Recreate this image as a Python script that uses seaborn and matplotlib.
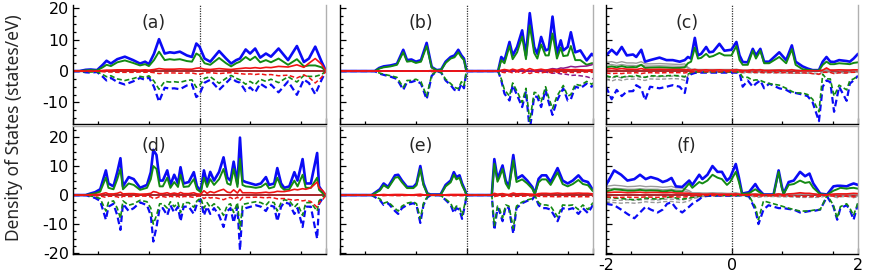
import matplotlib
matplotlib.use("Agg")
import matplotlib.pyplot as plt
from matplotlib.ticker import MultipleLocator, FixedLocator, NullFormatter
import seaborn as sns

sns.set_style("ticks")
plt.rcParams['font.family'] = ['DejaVu Sans']
plt.rcParams['axes.unicode_minus'] = False

# ---------------- panel (a) ----------------
a_E = [-2.0, -1.9, -1.8, -1.72, -1.62, -1.53, -1.47, -1.4, -1.3, -1.18,
       -1.05, -0.94, -0.86, -0.8, -0.72, -0.64, -0.55, -0.47, -0.4, -0.31,
       -0.2, -0.12, -0.05, 0.0, 0.08, 0.17, 0.31, 0.42, 0.5, 0.58,
       0.64, 0.73, 0.8, 0.88, 0.96, 1.05, 1.13, 1.25, 1.4, 1.54,
       1.65, 1.73, 1.83, 1.93, 2.0]
a_blue_up = [0, 0, 0.4, 0.5, 0.3, 2.0, 3.3, 2.4, 3.8, 4.6,
             3.5, 2.4, 3.0, 2.2, 5.5, 10.2, 5.6, 6.0, 5.8, 6.2,
             5.0, 4.5, 8.8, 7.8, 4.0, 3.0, 6.4, 4.0, 2.4, 3.5,
             4.0, 6.9, 5.6, 7.2, 4.3, 5.6, 4.6, 7.2, 3.5, 8.0,
             2.9, 4.0, 7.8, 3.0, 0]
a_green_up = [0, 0, 0.2, 0.3, 0.2, 1.2, 2.0, 1.6, 2.8, 3.4,
              2.6, 1.8, 2.2, 1.6, 3.5, 6.2, 3.5, 3.8, 3.6, 3.8,
              3.2, 3.0, 5.6, 5.0, 2.5, 2.0, 4.2, 2.5, 1.5, 2.5,
              3.0, 4.5, 3.5, 4.6, 2.8, 3.5, 2.8, 4.0, 2.0, 3.8,
              1.5, 1.8, 1.8, 1.2, 0]
a_red_up = [0, 0, 0, 0, 0, 0.2, 0.3, 0.3, 0.4, 0.4,
            0.4, 0.3, 0.4, 0.3, 0.5, 0.8, 0.6, 0.6, 0.6, 0.7,
            0.6, 0.6, 0.9, 1.0, 0.6, 0.5, 0.8, 0.6, 0.5, 0.7,
            0.8, 1.0, 0.9, 1.1, 0.9, 1.2, 1.1, 1.5, 1.3, 2.0,
            1.2, 2.5, 4.0, 2.2, 0]
a_blue_dn = [0, 0, -0.4, -0.5, -0.3, -1.8, -3.0, -2.2, -3.5, -4.3,
             -3.3, -2.2, -2.8, -2.0, -5.0, -9.8, -5.3, -5.6, -5.5, -5.8,
             -4.6, -4.2, -8.3, -7.4, -3.7, -2.8, -6.0, -3.8, -2.2, -3.3,
             -3.7, -6.4, -5.2, -6.8, -4.0, -5.2, -4.3, -6.8, -3.3, -7.6,
             -2.7, -3.8, -7.4, -2.8, 0]
a_green_dn = [0, 0, -0.2, -0.3, -0.2, -1.1, -1.8, -1.5, -2.5, -3.0,
              -2.4, -1.7, -2.0, -1.5, -3.2, -5.8, -3.3, -3.5, -3.4, -3.6,
              -3.0, -2.8, -5.2, -4.6, -2.3, -1.8, -3.9, -2.3, -1.4, -2.3,
              -2.8, -4.2, -3.3, -4.3, -2.6, -3.3, -2.6, -3.7, -1.8, -3.5,
              -1.4, -1.7, -1.7, -1.1, 0]
a_red_dn = [0, 0, 0, 0, 0, -0.2, -0.3, -0.3, -0.4, -0.4,
            -0.4, -0.3, -0.4, -0.3, -0.5, -0.8, -0.6, -0.6, -0.6, -0.7,
            -0.6, -0.6, -0.9, -1.0, -0.6, -0.5, -0.8, -0.6, -0.5, -0.7,
            -0.8, -1.0, -0.9, -1.1, -0.9, -1.2, -1.1, -1.5, -1.3, -2.2,
            -1.2, -2.0, -3.8, -2.0, 0]

# ---------------- panel (b) ----------------
b_E = [-2.0, -1.45, -1.38, -1.31, -1.2, -1.1, -1.0, -0.94, -0.87, -0.8,
       -0.72, -0.63, -0.55, -0.47, -0.4, -0.33, -0.25, -0.19, -0.13, -0.08,
       -0.04, 0.0, 0.5, 0.55, 0.6, 0.68, 0.73, 0.8, 0.88, 0.94,
       1.0, 1.07, 1.12, 1.18, 1.25, 1.3, 1.36, 1.43, 1.49, 1.53,
       1.6, 1.65, 1.72, 1.8, 1.9, 1.98, 2.0]
b_blue_up = [0, 0, 1.0, 1.5, 1.8, 2.3, 6.8, 3.5, 3.7, 3.0,
             3.5, 9.0, 1.3, 0.3, 0.5, 3.0, 4.5, 5.0, 6.8, 5.0,
             4.0, 0, 0, 4.5, 3.4, 9.3, 5.0, 7.7, 13.0, 5.0,
             18.5, 7.7, 5.5, 10.9, 6.6, 7.0, 17.4, 5.5, 9.8, 6.6,
             7.7, 12.4, 6.0, 6.6, 3.4, 5.5, 5.0]
b_green_up = [0, 0, 0.8, 1.2, 1.5, 2.0, 6.0, 3.0, 3.2, 2.6,
              3.0, 8.0, 1.1, 0.2, 0.4, 2.6, 4.0, 4.4, 6.0, 4.4,
              3.5, 0, 0, 3.5, 2.5, 8.0, 3.8, 6.0, 11.0, 3.8,
              14.6, 5.8, 4.0, 8.5, 5.0, 5.0, 12.0, 4.0, 7.5, 4.8,
              5.0, 8.0, 3.5, 3.5, 2.0, 2.5, 2.5]
b_red_up = [0, 0, 0, 0, 0, 0, 0, 0, 0, 0,
            0, 0, 0.2, 0, 0, 0, 0, 0, 0, 0,
            0, 0, 0, 0.3, 0.5, 0.2, 0.6, 0.2, 0.7, 0.2,
            0.8, 0.3, 0.4, 0.6, 0.3, 0.4, 0.5, 0.3, 0.5, 0.4,
            0.5, 0.4, 0.5, 0.4, 0.3, 0.4, 0.4]
b_purple_up = [0, 0, 0, 0, 0, 0, 0, 0, 0, 0,
               0, 0, 0, 0, 0, 0, 0, 0, 0, 0,
               0, 0, 0, 0, 0, 0, 0, 0, 0, 0,
               0, 0, 0, 0, 0.3, 0.5, 0.8, 0.6, 1.0, 0.9,
               1.2, 1.5, 1.3, 1.5, 1.6, 2.0, 2.2]
b_blue_dn = [0, 0, -0.8, -1.2, -1.8, -2.5, -6.0, -3.5, -3.5, -3.0,
             -4.0, -9.0, -1.5, 0, -0.5, -3.0, -4.5, -6.0, -6.5, -4.0,
             -5.5, 0, 0, -3.0, -7.2, -9.4, -4.5, -7.7, -11.5, -6.5,
             -19.0, -8.0, -8.3, -11.5, -6.0, -10.0, -14.0, -9.5, -7.0, -5.5,
             -9.4, -9.0, -5.0, -5.5, -4.0, -5.0, -4.5]
b_green_dn = [0, 0, -0.6, -1.0, -1.5, -2.0, -5.2, -3.0, -3.0, -2.6,
              -3.4, -8.0, -1.2, 0, -0.4, -2.6, -4.0, -5.2, -5.6, -3.4,
              -4.6, 0, 0, -2.5, -6.0, -8.0, -3.8, -6.5, -10.0, -5.5,
              -16.0, -6.8, -7.0, -9.8, -5.0, -8.5, -12.0, -8.0, -6.0, -4.6,
              -8.0, -7.5, -4.2, -4.6, -3.3, -4.2, -3.8]
b_red_dn = [0, 0, 0, 0, 0, 0, 0, 0, 0, 0,
            0, 0, -0.2, 0, 0, 0, 0, 0, 0, 0,
            0, 0, 0, -0.3, -0.5, -0.2, -0.6, -0.2, -0.7, -0.2,
            -0.8, -0.3, -0.4, -0.6, -0.3, -0.4, -0.5, -0.3, -0.5, -0.4,
            -0.5, -0.4, -0.5, -0.4, -0.3, -0.4, -0.4]
b_purple_dn = [0, 0, 0, 0, 0, 0, 0, 0, 0, 0,
               0, 0, 0, 0, 0, 0, 0, 0, 0, 0,
               0, 0, 0, 0, 0, 0, 0, 0, 0, 0,
               0, 0, 0, 0, -0.3, -0.5, -0.7, -0.6, -0.9, -0.9,
               -1.1, -1.4, -1.3, -1.5, -1.8, -2.3, -2.5]

# ---------------- panel (c) ----------------
c_E = [-2.0, -1.91, -1.83, -1.75, -1.67, -1.57, -1.52, -1.44, -1.38, -1.30,
       -1.15, -1.04, -0.94, -0.83, -0.75, -0.70, -0.65, -0.59, -0.54, -0.49,
       -0.41, -0.36, -0.30, -0.20, -0.12, -0.01, 0.07, 0.12, 0.17, 0.25,
       0.33, 0.38, 0.45, 0.51, 0.59, 0.75, 0.86, 0.95, 1.01, 1.12,
       1.20, 1.28, 1.38, 1.44, 1.50, 1.56, 1.62, 1.70, 1.82, 1.87,
       1.93, 2.0]
c_blue_up = [5.0, 6.8, 5.3, 7.7, 5.0, 5.3, 4.5, 6.8, 3.0, 3.5,
             4.3, 3.5, 3.5, 3.0, 3.5, 4.5, 4.0, 10.6, 5.0, 5.5,
             7.7, 6.0, 6.2, 8.7, 6.5, 6.8, 9.3, 5.0, 2.9, 2.8,
             7.1, 5.0, 7.1, 3.0, 3.0, 6.0, 3.5, 8.2, 3.0, 1.5,
             0.8, 0.3, 0.3, 3.0, 4.5, 3.0, 2.9, 3.5, 3.2, 3.0,
             4.0, 5.5]
c_green_up = [1.2, 1.5, 1.2, 1.6, 1.2, 1.3, 1.2, 2.0, 1.0, 1.1,
              1.2, 1.1, 1.0, 1.0, 1.2, 2.5, 3.0, 7.5, 4.0, 4.2,
              5.5, 4.5, 4.8, 5.8, 5.0, 5.0, 8.0, 3.5, 2.0, 2.0,
              6.5, 4.0, 6.5, 2.5, 2.5, 4.5, 2.5, 7.0, 2.0, 0.6,
              0.4, 0.2, 0.2, 2.0, 3.0, 2.2, 2.2, 2.5, 2.3, 2.2,
              2.6, 2.8]
c_red_up = [0.6, 0.8, 0.6, 0.8, 0.6, 0.6, 0.5, 0.8, 0.5, 0.5,
            0.6, 0.5, 0.5, 0.5, 0.5, 0.4, 0.3, 0.5, 0.3, 0.3,
            0.4, 0.3, 0.3, 0.4, 0.3, 0.3, 0.4, 0.3, 0.2, 0.2,
            0.4, 0.3, 0.4, 0.2, 0.2, 0.3, 0.2, 0.4, 0.2, 0.1,
            0.1, 0.1, 0.1, 0.3, 1.0, 0.3, 0.3, 0.4, 0.3, 0.3,
            0.4, 0.4]
c_grey1_up = [2.8, 3.0, 2.6, 3.0, 2.6, 2.6, 2.5, 3.0, 2.3, 2.3,
              2.4, 2.3, 2.2, 2.1, 2.3, 1.2, 0.6, 0.6, 0.5, 0.5,
              0.5, 0.5, 0.5, 0.5, 0.5, 0.5, 0.6, 0.4, 0.3, 0.3,
              0.5, 0.4, 0.5, 0.3, 0.3, 0.4, 0.3, 0.5, 0.3, 0.2,
              0.2, 0.1, 0.1, 0.3, 0.4, 0.3, 0.3, 0.3, 0.3, 0.3,
              0.3, 0.4]
c_grey2_up = [1.9, 2.1, 1.8, 2.1, 1.8, 1.8, 1.7, 2.1, 1.6, 1.6,
              1.7, 1.6, 1.6, 1.5, 1.6, 0.9, 0.4, 0.4, 0.3, 0.3,
              0.3, 0.3, 0.3, 0.3, 0.3, 0.3, 0.4, 0.3, 0.2, 0.2,
              0.3, 0.3, 0.3, 0.2, 0.2, 0.3, 0.2, 0.3, 0.2, 0.1,
              0.1, 0.1, 0.1, 0.2, 0.3, 0.2, 0.2, 0.2, 0.2, 0.2,
              0.2, 0.3]
c_blue_dn = [-5.0, -9.0, -6.0, -8.0, -6.5, -6.4, -4.5, -5.5, -9.3, -5.0,
             -5.5, -5.0, -4.5, -5.0, -7.0, -2.0, -1.0, -0.6, -0.5, -0.5,
             -0.5, -0.5, -0.5, -0.5, -0.5, -0.5, -0.5, -0.6, -5.0, -3.0,
             -5.0, -4.0, -3.0, -5.5, -4.0, -5.5, -6.0, -7.0, -7.0, -7.5,
             -8.0, -10.0, -16.0, -5.0, -3.0, -3.5, -13.0, -5.0, -9.5, -4.0,
             -3.0, -1.5]
c_green_dn = [-1.5, -2.0, -1.6, -2.0, -1.6, -1.7, -1.4, -1.8, -2.0, -1.5,
              -1.6, -1.5, -1.4, -1.5, -1.8, -1.0, -0.5, -0.3, -0.3, -0.3,
              -0.3, -0.3, -0.3, -0.3, -0.3, -0.3, -0.3, -0.4, -2.0, -2.0,
              -3.0, -2.8, -3.0, -3.5, -4.0, -4.5, -5.5, -6.5, -7.0, -7.0,
              -7.5, -9.0, -13.0, -1.0, -2.5, -2.5, -8.0, -4.5, -6.0, -3.0,
              -2.5, -1.5]
c_red_dn = [-0.6, -0.8, -0.7, -0.8, -0.6, -0.6, -0.5, -0.8, -0.6, -0.5,
            -0.6, -0.5, -0.5, -0.5, -0.6, -0.4, -0.3, -0.2, -0.2, -0.2,
            -0.2, -0.2, -0.2, -0.2, -0.2, -0.2, -0.2, -0.2, -0.4, -0.3,
            -0.4, -0.4, -0.4, -0.5, -0.4, -0.5, -0.5, -0.6, -0.6, -0.6,
            -0.6, -0.8, -1.0, -0.4, -0.4, -0.4, -0.8, -0.5, -0.6, -0.4,
            -0.4, -0.3]
c_grey1_dn = [-1.8, -2.2, -1.8, -2.2, -1.8, -1.8, -1.7, -2.0, -2.0, -1.7,
              -1.8, -1.7, -1.6, -1.7, -2.0, -1.0, -0.4, -0.3, -0.3, -0.3,
              -0.3, -0.3, -0.3, -0.3, -0.3, -0.3, -0.3, -0.3, -0.4, -0.3,
              -0.4, -0.4, -0.3, -0.4, -0.4, -0.4, -0.4, -0.5, -0.5, -0.5,
              -0.5, -0.6, -0.8, -0.3, -0.3, -0.3, -0.6, -0.4, -0.5, -0.3,
              -0.3, -0.2]
c_grey2_dn = [-2.6, -3.2, -2.6, -3.0, -2.6, -2.6, -2.4, -2.8, -3.0, -2.5,
              -2.6, -2.5, -2.4, -2.5, -3.0, -1.5, -0.6, -0.4, -0.4, -0.4,
              -0.4, -0.4, -0.4, -0.4, -0.4, -0.4, -0.4, -0.4, -0.6, -0.5,
              -0.6, -0.6, -0.5, -0.6, -0.6, -0.6, -0.6, -0.7, -0.7, -0.7,
              -0.7, -0.8, -1.1, -0.4, -0.4, -0.4, -0.8, -0.6, -0.7, -0.4,
              -0.4, -0.3]

# ---------------- panel (d) ----------------
d_E = [-2.0, -1.8, -1.73, -1.65, -1.57, -1.48, -1.44, -1.36, -1.30, -1.25,
       -1.21, -1.12, -1.04, -0.94, -0.83, -0.77, -0.73, -0.68, -0.63, -0.58,
       -0.51, -0.46, -0.40, -0.34, -0.30, -0.25, -0.17, -0.09, -0.04, 0.02,
       0.07, 0.12, 0.17, 0.23, 0.31, 0.38, 0.44, 0.49, 0.54, 0.60,
       0.64, 0.68, 0.73, 0.81, 0.89, 0.97, 1.05, 1.10, 1.18, 1.23,
       1.29, 1.34, 1.42, 1.50, 1.55, 1.63, 1.68, 1.76, 1.86, 1.89,
       1.95, 2.0]
d_blue_up = [0, 0, 0.5, 1.0, 2.0, 8.5, 4.0, 3.0, 7.9, 12.7,
             3.0, 6.2, 5.5, 2.5, 3.5, 7.9, 15.6, 13.8, 5.0, 5.0,
             8.5, 3.5, 7.0, 4.0, 9.6, 4.0, 4.5, 7.9, 3.0, 1.5,
             8.5, 4.0, 8.0, 5.0, 8.0, 13.0, 6.0, 5.0, 11.5, 4.0,
             19.8, 5.0, 4.5, 4.0, 3.5, 4.0, 6.2, 3.5, 4.0, 9.3,
             4.0, 2.5, 3.0, 7.9, 5.0, 12.4, 4.0, 4.0, 14.5, 3.0,
             1.0, 0]
d_green_up = [0, 0, 0.3, 0.6, 1.2, 6.0, 2.5, 2.0, 5.5, 9.0,
              2.0, 4.0, 3.5, 1.8, 2.5, 5.5, 10.0, 9.0, 3.0, 3.0,
              6.0, 2.5, 4.5, 2.8, 7.0, 2.8, 3.0, 5.5, 2.0, 1.0,
              6.0, 2.8, 5.5, 3.5, 5.5, 9.0, 4.0, 3.5, 9.0, 2.8,
              12.5, 3.5, 3.0, 2.8, 2.5, 2.8, 4.0, 2.3, 2.8, 6.0,
              2.8, 1.8, 2.0, 5.0, 3.0, 7.0, 2.5, 2.5, 6.0, 1.8,
              0.6, 0]
d_red_up = [0, 0, 0.1, 0.2, 0.3, 0.8, 0.4, 0.4, 0.6, 1.0,
            0.4, 0.5, 0.5, 0.3, 0.4, 0.6, 1.2, 1.0, 0.5, 0.5,
            0.8, 0.4, 0.7, 0.4, 0.9, 0.5, 0.5, 0.8, 0.4, 0.3,
            1.5, 0.6, 1.2, 0.8, 1.5, 2.0, 1.0, 0.8, 1.8, 0.7,
            2.0, 0.8, 0.8, 0.8, 0.7, 0.8, 1.0, 0.8, 1.0, 1.3,
            1.2, 1.2, 1.5, 2.0, 1.8, 2.2, 2.0, 2.5, 4.5, 2.5,
            1.5, 0]
d_blue_dn = [0, 0, -0.5, -1.0, -2.0, -8.5, -4.0, -3.0, -7.0, -12.0,
             -3.0, -5.5, -4.5, -2.5, -3.5, -7.0, -16.0, -11.0, -4.5, -4.5,
             -7.0, -3.5, -6.0, -4.0, -9.0, -4.0, -4.0, -6.5, -3.0, -1.5,
             -7.0, -4.0, -6.5, -4.5, -7.0, -11.0, -5.5, -4.5, -9.5, -4.0,
             -19.0, -5.0, -4.5, -4.0, -3.5, -4.0, -5.5, -3.5, -4.0, -9.0,
             -4.0, -2.5, -3.0, -6.5, -4.5, -11.0, -4.0, -4.0, -15.0, -3.0,
             -1.0, 0]
d_green_dn = [0, 0, -0.3, -0.6, -1.2, -5.5, -2.5, -2.0, -4.5, -8.0,
              -2.0, -3.5, -3.0, -1.8, -2.3, -4.5, -10.0, -7.0, -3.0, -3.0,
              -4.5, -2.3, -4.0, -2.6, -6.0, -2.6, -2.6, -4.2, -2.0, -1.0,
              -4.5, -2.6, -4.2, -3.0, -4.5, -7.0, -3.5, -3.0, -6.0, -2.6,
              -12.0, -3.2, -3.0, -2.6, -2.3, -2.6, -3.5, -2.3, -2.6, -5.5,
              -2.6, -1.6, -2.0, -4.2, -3.0, -7.0, -2.6, -2.6, -5.5, -2.0,
              -0.6, 0]
d_red_dn = [0, 0, -0.1, -0.2, -0.3, -0.8, -0.4, -0.4, -0.6, -1.0,
            -0.4, -0.5, -0.5, -0.3, -0.4, -0.6, -1.2, -1.0, -0.5, -0.5,
            -0.8, -0.4, -0.7, -0.4, -0.9, -0.5, -0.5, -0.8, -0.4, -0.3,
            -1.2, -0.6, -1.0, -0.8, -1.2, -1.6, -1.0, -0.8, -1.5, -0.7,
            -1.8, -0.8, -0.8, -0.8, -0.7, -0.8, -1.0, -0.8, -1.0, -1.3,
            -1.2, -1.2, -1.5, -1.8, -1.6, -2.0, -1.8, -2.2, -4.2, -2.8,
            -1.5, 0]

# ---------------- panel (e) ----------------
e_E = [-2.0, -1.5, -1.37, -1.31, -1.24, -1.13, -1.08, -1.02, -0.94, -0.84,
       -0.79, -0.73, -0.68, -0.62, -0.57, -0.41, -0.33, -0.25, -0.20, -0.16,
       -0.11, -0.07, -0.02, 0.0, 0.40, 0.44, 0.49, 0.52, 0.57, 0.62,
       0.67, 0.74, 0.79, 0.88, 0.96, 1.04, 1.08, 1.14, 1.19, 1.26,
       1.33, 1.44, 1.52, 1.60, 1.68, 1.77, 1.84, 1.92, 2.0]
e_blue_up = [0, 0, 2.0, 4.0, 2.8, 6.8, 7.0, 5.0, 2.8, 2.8,
             4.0, 10.0, 4.0, 0.6, 0.2, 0.2, 3.5, 5.0, 7.9, 6.2,
             6.8, 4.0, 1.5, 0, 0, 12.4, 5.6, 7.2, 10.2, 5.0,
             2.8, 13.8, 5.6, 6.8, 5.0, 2.8, 0.5, 5.6, 6.8, 6.8,
             4.5, 9.3, 5.0, 4.0, 5.0, 6.8, 5.0, 4.5, 1.7]
e_green_up = [0, 0, 1.6, 3.4, 2.4, 6.0, 6.2, 4.4, 2.4, 2.4,
              3.4, 9.0, 3.4, 0.5, 0.1, 0.1, 3.0, 4.4, 7.0, 5.4,
              6.0, 3.4, 1.2, 0, 0, 10.8, 4.6, 6.0, 9.0, 4.0,
              2.2, 12.0, 4.5, 5.4, 4.0, 2.2, 0.4, 4.4, 5.4, 5.4,
              3.5, 7.8, 3.8, 3.0, 3.8, 5.2, 3.8, 3.4, 1.3]
e_red_up = [0, 0, 0.1, 0.2, 0.1, 0.2, 0.2, 0.2, 0.1, 0.1,
            0.2, 0.3, 0.1, 0, 0, 0, 0.1, 0.2, 0.2, 0.2,
            0.2, 0.2, 0.1, 0, 0, 0.6, 0.3, 0.4, 0.5, 0.3,
            0.2, 0.7, 0.4, 0.5, 0.4, 0.3, 0.1, 0.5, 0.6, 0.6,
            0.5, 0.7, 0.5, 0.6, 0.6, 0.7, 0.6, 0.6, 0.4]
e_blue_dn = [0, 0, -1.7, -3.4, -2.8, -5.5, -6.5, -4.5, -3.4, -2.8,
             -3.5, -9.6, -3.4, -0.8, -0.1, -0.1, -1.7, -3.4, -6.2, -4.5,
             -5.0, -8.2, -3.0, 0, 0, -12.0, -4.5, -5.5, -9.0, -4.0,
             -4.5, -13.3, -4.5, -2.8, -2.0, -1.5, -0.3, -3.4, -4.5, -4.5,
             -5.0, -9.0, -4.5, -5.0, -4.5, -6.5, -4.5, -6.2, -3.4]
e_green_dn = [0, 0, -1.3, -2.8, -2.3, -4.6, -5.5, -3.8, -2.8, -2.3,
              -3.0, -8.2, -2.8, -0.6, -0.1, -0.1, -1.4, -2.8, -5.2, -3.8,
              -4.2, -7.0, -2.5, 0, 0, -10.5, -3.8, -4.6, -7.8, -3.4,
              -3.8, -11.5, -3.8, -2.4, -1.7, -1.2, -0.2, -2.6, -3.4, -3.4,
              -3.8, -7.5, -3.4, -3.6, -3.4, -5.0, -3.4, -5.0, -2.6]
e_red_dn = [0, 0, -0.1, -0.2, -0.1, -0.2, -0.2, -0.2, -0.1, -0.1,
            -0.2, -0.3, -0.1, 0, 0, 0, -0.1, -0.2, -0.2, -0.2,
            -0.2, -0.2, -0.1, 0, 0, -0.5, -0.3, -0.4, -0.5, -0.3,
            -0.3, -0.6, -0.4, -0.4, -0.3, -0.3, -0.1, -0.4, -0.5, -0.5,
            -0.5, -0.6, -0.5, -0.5, -0.5, -0.6, -0.5, -0.6, -0.4]

# ---------------- panel (f) ----------------
f_E = [-2.0, -1.87, -1.76, -1.66, -1.55, -1.46, -1.37, -1.29, -1.18, -1.10,
       -1.03, -0.96, -0.89, -0.79, -0.68, -0.63, -0.52, -0.47, -0.39, -0.31,
       -0.23, -0.16, -0.08, -0.03, 0.06, 0.11, 0.16, 0.27, 0.37, 0.42,
       0.50, 0.58, 0.66, 0.74, 0.79, 0.82, 0.90, 0.98, 1.08, 1.16,
       1.23, 1.29, 1.40, 1.51, 1.61, 1.67, 1.72, 1.82, 1.87, 1.93,
       2.0]
f_blue_up = [3.4, 8.5, 7.0, 5.0, 5.5, 7.0, 5.5, 6.2, 5.5, 4.5,
             5.0, 5.9, 3.0, 2.8, 5.0, 3.5, 7.0, 5.5, 7.0, 10.0,
             8.0, 8.0, 5.0, 6.0, 10.7, 6.0, 0.5, 1.0, 3.8, 2.0,
             0.2, 0.2, 0.2, 8.5, 3.0, 0.5, 4.5, 5.0, 8.0, 6.5,
             7.4, 4.0, 0.5, 0.2, 3.0, 3.2, 3.2, 3.0, 3.5, 4.0,
             3.5]
f_green_up = [1.2, 2.0, 1.8, 1.5, 1.5, 1.8, 1.5, 1.6, 1.5, 1.3,
              1.4, 1.6, 1.2, 1.2, 4.0, 2.5, 4.5, 4.0, 5.0, 7.0,
              6.0, 5.5, 3.5, 4.5, 8.0, 4.5, 0.4, 0.6, 2.0, 1.2,
              0.1, 0.1, 0.1, 8.0, 2.5, 0.4, 3.5, 3.8, 5.0, 4.2,
              4.5, 2.5, 0.3, 0.1, 1.5, 2.0, 2.5, 2.2, 2.4, 2.5,
              2.2]
f_red_up = [0.8, 1.0, 1.0, 0.8, 0.9, 1.0, 0.8, 0.9, 0.9, 0.8,
            0.8, 0.9, 0.7, 0.7, 0.6, 0.4, 0.4, 0.3, 0.3, 0.4,
            0.3, 0.3, 0.3, 0.3, 0.4, 0.3, 0.1, 0.2, 0.3, 0.2,
            0.1, 0.1, 0.1, 0.4, 0.2, 0.1, 0.4, 0.5, 0.8, 0.6,
            0.6, 0.4, 0.1, 0.1, 0.3, 0.4, 0.4, 0.4, 0.5, 0.6,
            0.5]
f_grey1_up = [3.0, 3.4, 3.2, 2.9, 3.0, 3.2, 2.9, 3.0, 2.9, 2.7,
              2.8, 3.0, 2.5, 2.4, 1.5, 0.8, 0.8, 0.7, 0.7, 0.8,
              0.7, 0.7, 0.6, 0.6, 0.8, 0.6, 0.3, 0.3, 0.4, 0.3,
              0.2, 0.2, 0.2, 0.5, 0.3, 0.2, 0.4, 0.4, 0.5, 0.5,
              0.5, 0.4, 0.2, 0.1, 0.3, 0.3, 0.3, 0.3, 0.3, 0.4,
              0.3]
f_grey2_up = [2.0, 2.3, 2.2, 2.0, 2.0, 2.2, 2.0, 2.0, 2.0, 1.8,
              1.9, 2.0, 1.7, 1.6, 1.0, 0.5, 0.5, 0.5, 0.5, 0.5,
              0.5, 0.5, 0.4, 0.4, 0.5, 0.4, 0.2, 0.2, 0.3, 0.2,
              0.1, 0.1, 0.1, 0.3, 0.2, 0.1, 0.3, 0.3, 0.3, 0.3,
              0.3, 0.3, 0.1, 0.1, 0.2, 0.2, 0.2, 0.2, 0.2, 0.3,
              0.2]
f_blue_dn = [-3.0, -3.5, -5.0, -6.5, -8.0, -6.0, -4.0, -5.0, -6.0, -5.0,
             -3.0, -2.5, -4.5, -6.0, -4.0, -3.0, -1.5, -0.5, -0.3, -0.2,
             -0.2, -0.2, -0.2, -0.2, -0.2, -0.1, 0, -0.5, -5.0, -10.0,
             -5.0, -3.5, -4.0, -4.5, -4.5, -4.5, -4.8, -5.0, -6.0, -5.8,
             -5.5, -5.5, -5.0, -0.5, -4.0, -8.5, -4.5, -3.5, -5.0, -8.5,
             -3.0]
f_green_dn = [-0.8, -1.0, -1.2, -1.4, -1.6, -1.4, -1.0, -1.2, -1.4, -1.2,
              -0.8, -0.7, -1.0, -1.4, -1.0, -0.8, -0.4, -0.2, -0.1, -0.1,
              -0.1, -0.1, -0.1, -0.1, -0.1, -0.1, 0, -0.3, -4.0, -8.5,
              -2.0, -2.5, -3.0, -3.5, -3.8, -4.0, -4.5, -5.0, -5.5, -5.5,
              -5.5, -5.2, -5.0, 0, -3.5, -8.0, -4.0, -3.0, -4.5, -7.0,
              -2.5]
f_red_dn = [-0.6, -0.8, -0.8, -0.7, -0.8, -0.8, -0.6, -0.7, -0.8, -0.6,
            -0.6, -0.6, -0.6, -0.7, -0.5, -0.3, -0.2, -0.1, -0.1, -0.1,
            -0.1, -0.1, -0.1, -0.1, -0.1, -0.1, 0, -0.1, -0.3, -0.5,
            -0.2, -0.3, -0.3, -0.3, -0.3, -0.3, -0.4, -0.4, -0.5, -0.5,
            -0.5, -0.5, -0.4, 0, -0.4, -0.6, -0.4, -0.4, -0.5, -0.6,
            -0.3]
f_grey1_dn = [-1.5, -1.8, -1.8, -1.6, -1.8, -1.7, -1.5, -1.6, -1.7, -1.5,
              -1.4, -1.4, -1.5, -1.7, -1.2, -0.7, -0.5, -0.3, -0.2, -0.2,
              -0.2, -0.2, -0.2, -0.2, -0.2, -0.2, -0.1, -0.2, -0.4, -0.5,
              -0.3, -0.3, -0.3, -0.4, -0.4, -0.4, -0.4, -0.4, -0.5, -0.5,
              -0.5, -0.5, -0.5, -0.1, -0.3, -0.6, -0.4, -0.3, -0.4, -0.6,
              -0.3]
f_grey2_dn = [-2.3, -2.6, -2.8, -2.6, -2.8, -2.6, -2.3, -2.5, -2.6, -2.3,
              -2.2, -2.2, -2.4, -2.6, -2.0, -1.2, -0.8, -0.5, -0.3, -0.3,
              -0.3, -0.3, -0.3, -0.3, -0.3, -0.3, -0.2, -0.3, -0.6, -0.8,
              -0.5, -0.5, -0.5, -0.6, -0.6, -0.6, -0.6, -0.7, -0.8, -0.8,
              -0.8, -0.8, -0.8, -0.2, -0.5, -0.9, -0.6, -0.5, -0.6, -0.9,
              -0.5]

panel_labels = ['(a)', '(b)', '(c)', '(d)', '(e)', '(f)']
x_tick_labels = ['-2', '0', '2']
y_label = 'Density of States (states/eV)'

BLUE = '#0b0bf5'
GREEN = '#138a13'
RED = '#f01414'
GREY = '#9a9a9a'
PURPLE = '#8a1a8a'
ZERO = '#a8262a'
DASH = (0, (3.0, 1.6))


def curve(ax, E, y, color, lw, dashed=False, z=2):
    sns.lineplot(x=E, y=y, ax=ax, color=color, linewidth=lw,
                 linestyle=DASH if dashed else '-', estimator=None,
                 sort=False, legend=False, zorder=z)


panels = [
    dict(E=a_E, bu=a_blue_up, gu=a_green_up, ru=a_red_up,
         bd=a_blue_dn, gd=a_green_dn, rd=a_red_dn),
    dict(E=b_E, bu=b_blue_up, gu=b_green_up, ru=b_red_up,
         bd=b_blue_dn, gd=b_green_dn, rd=b_red_dn,
         pu=b_purple_up, pd=b_purple_dn),
    dict(E=c_E, bu=c_blue_up, gu=c_green_up, ru=c_red_up,
         bd=c_blue_dn, gd=c_green_dn, rd=c_red_dn,
         greys_up=[c_grey1_up, c_grey2_up], greys_dn=[c_grey1_dn, c_grey2_dn]),
    dict(E=d_E, bu=d_blue_up, gu=d_green_up, ru=d_red_up,
         bd=d_blue_dn, gd=d_green_dn, rd=d_red_dn),
    dict(E=e_E, bu=e_blue_up, gu=e_green_up, ru=e_red_up,
         bd=e_blue_dn, gd=e_green_dn, rd=e_red_dn),
    dict(E=f_E, bu=f_blue_up, gu=f_green_up, ru=f_red_up,
         bd=f_blue_dn, gd=f_green_dn, rd=f_red_dn,
         greys_up=[f_grey1_up, f_grey2_up], greys_dn=[f_grey1_dn, f_grey2_dn]),
]

W, H = 872, 273
fig = plt.figure(figsize=(W / 100, H / 100), dpi=100)

col_px = [(73, 326), (340, 593), (606, 858)]
row_px = [(5, 124), (126, 254)]
row_ylim = [(-16.9, 21.1), (-20.3, 23.8)]
label_y = [15.3, 16.9]

for i, p in enumerate(panels):
    r, c = divmod(i, 3)
    x0, x1 = col_px[c]
    y0, y1 = row_px[r]
    ax = fig.add_axes([x0 / W, 1 - y1 / H, (x1 - x0) / W, (y1 - y0) / H])
    E = p['E']
    ax.axhline(0, color=ZERO, lw=1.4, zorder=1.5)
    ax.axvline(0, color='#333333', lw=0.9, ls=(0, (1, 1)), zorder=1.2)
    for g in p.get('greys_up', []):
        curve(ax, E, g, GREY, 1.0, z=1.8)
    for g in p.get('greys_dn', []):
        curve(ax, E, g, GREY, 1.0, dashed=True, z=1.8)
    curve(ax, E, p['bd'], BLUE, 1.6, dashed=True, z=2.0)
    curve(ax, E, p['gd'], GREEN, 1.2, dashed=True, z=2.1)
    curve(ax, E, p['bu'], BLUE, 1.9, z=2.2)
    curve(ax, E, p['gu'], GREEN, 1.4, z=2.3)
    if 'pu' in p:
        curve(ax, E, p['pu'], PURPLE, 1.1, z=2.4)
        curve(ax, E, p['pd'], PURPLE, 1.1, dashed=True, z=2.4)
    curve(ax, E, p['ru'], RED, 1.2, z=2.5)
    curve(ax, E, p['rd'], RED, 1.1, dashed=True, z=2.5)

    ax.set_xlim(-2, 2)
    ax.set_ylim(*row_ylim[r])
    ax.xaxis.set_major_locator(FixedLocator([-2, 0, 2]))
    ax.xaxis.set_minor_locator(FixedLocator([-1.6, -0.8, 0.8, 1.6]))
    ax.yaxis.set_major_locator(MultipleLocator(10))
    ax.yaxis.set_minor_locator(MultipleLocator(2.5))
    ax.tick_params(which='both', direction='in', top=False, right=False,
                   width=0.9, colors='black', labelsize=11.5, pad=3)
    ax.tick_params(which='major', length=4.5)
    ax.tick_params(which='minor', length=2.5)
    ax.set_xlabel('')
    ax.set_ylabel('')
    if i == 5:
        ax.set_xticklabels(x_tick_labels)
    else:
        ax.xaxis.set_major_formatter(NullFormatter())
    if c != 0:
        ax.yaxis.set_major_formatter(NullFormatter())
    for s in ['left', 'bottom']:
        ax.spines[s].set_color('black')
        ax.spines[s].set_linewidth(1.0)
    for s in ['right', 'top']:
        ax.spines[s].set_color('#b0b0b0')
        ax.spines[s].set_linewidth(1.0)
    if r == 0:
        ax.spines['top'].set_visible(False)
    ax.set_facecolor('white')
    ax.text(-0.72, label_y[r], panel_labels[i], ha='center', va='center',
            fontsize=12.5, zorder=5)

fig.text(14 / W, 1 - 128 / H, y_label, rotation=90, ha='center', va='center',
         fontsize=12.5, family=['Noto Sans', 'DejaVu Sans'])

fig.savefig('out.png', dpi=100)
